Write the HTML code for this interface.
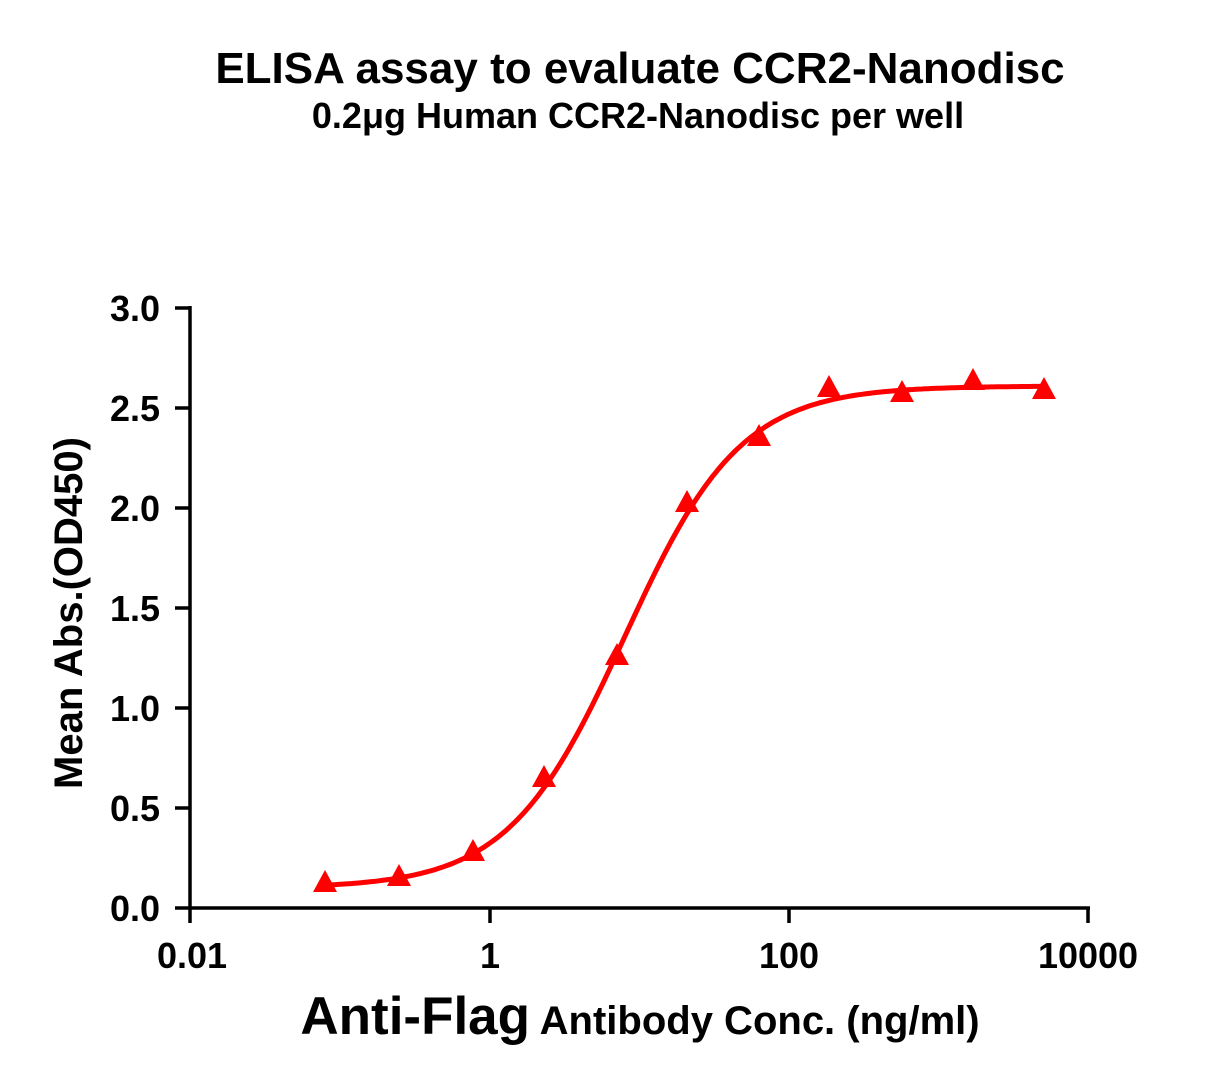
<!DOCTYPE html>
<html><head><style>body{margin:0;background:#fff}svg{display:block}text{font-family:"Liberation Sans",Arial,sans-serif;font-weight:bold;fill:#000}</style></head>
<body>
<svg id="s" width="1217" height="1090" xmlns="http://www.w3.org/2000/svg">
<text x="640" y="83" font-size="44" text-anchor="middle">ELISA assay to evaluate CCR2-Nanodisc</text>
<text x="638" y="128" font-size="36" text-anchor="middle">0.2μg Human CCR2-Nanodisc per well</text>
<g stroke="#000" stroke-width="3.5" fill="none">
<line x1="190" y1="306" x2="190" y2="909"/>
<line x1="175" y1="908" x2="1090" y2="908"/>
<line x1="175" y1="308" x2="190" y2="308"/>
<line x1="175" y1="408" x2="190" y2="408"/>
<line x1="175" y1="508" x2="190" y2="508"/>
<line x1="175" y1="608" x2="190" y2="608"/>
<line x1="175" y1="708" x2="190" y2="708"/>
<line x1="175" y1="808" x2="190" y2="808"/>
<line x1="190" y1="908" x2="190" y2="923"/>
<line x1="490" y1="908" x2="490" y2="923"/>
<line x1="789" y1="908" x2="789" y2="923"/>
<line x1="1088" y1="908" x2="1088" y2="923"/>
</g>
<g font-size="36" text-anchor="end">
<text x="160" y="321">3.0</text><text x="160" y="421">2.5</text><text x="160" y="521">2.0</text>
<text x="160" y="621">1.5</text><text x="160" y="721">1.0</text><text x="160" y="821">0.5</text><text x="160" y="921">0.0</text>
</g>
<g font-size="36" text-anchor="middle">
<text x="192" y="968">0.01</text><text x="490" y="968">1</text><text x="789" y="968">100</text><text x="1088" y="968">10000</text>
</g>
<text transform="translate(82,613) rotate(-90)" font-size="40" text-anchor="middle">Mean Abs.(OD450)</text>
<text x="640" y="1034" text-anchor="middle"><tspan font-size="53">Anti-Flag</tspan><tspan font-size="40"> Antibody Conc. (ng/ml)</tspan></text>
<path id="curve" fill="none" stroke="#f00" stroke-width="5"/>
<g fill="#f00" id="pts"></g>
<script>
var d="";
for(var px=325;px<=1044;px+=3){var lg=-2+(px-190)/149.7;var c=Math.pow(10,lg);var y=0.1+2.51/(1+Math.pow(8/c,1.12));var py=908-200*y;d+=(d?"L":"M")+px+","+py.toFixed(1);}
document.getElementById("curve").setAttribute("d",d);
var P=[[325,883],[399,877],[473,852],[544,778],[617,656],[687,503],[759,437],[829,388],[902,393],[973,381],[1044,390]];
var g=document.getElementById("pts");
P.forEach(function(p){var e=document.createElementNS("http://www.w3.org/2000/svg","polygon");e.setAttribute("points",p[0]+','+(p[1]-13)+' '+(p[0]-12)+','+(p[1]+9)+' '+(p[0]+12)+','+(p[1]+9));g.appendChild(e);});
</script>
</svg>
</body></html>
